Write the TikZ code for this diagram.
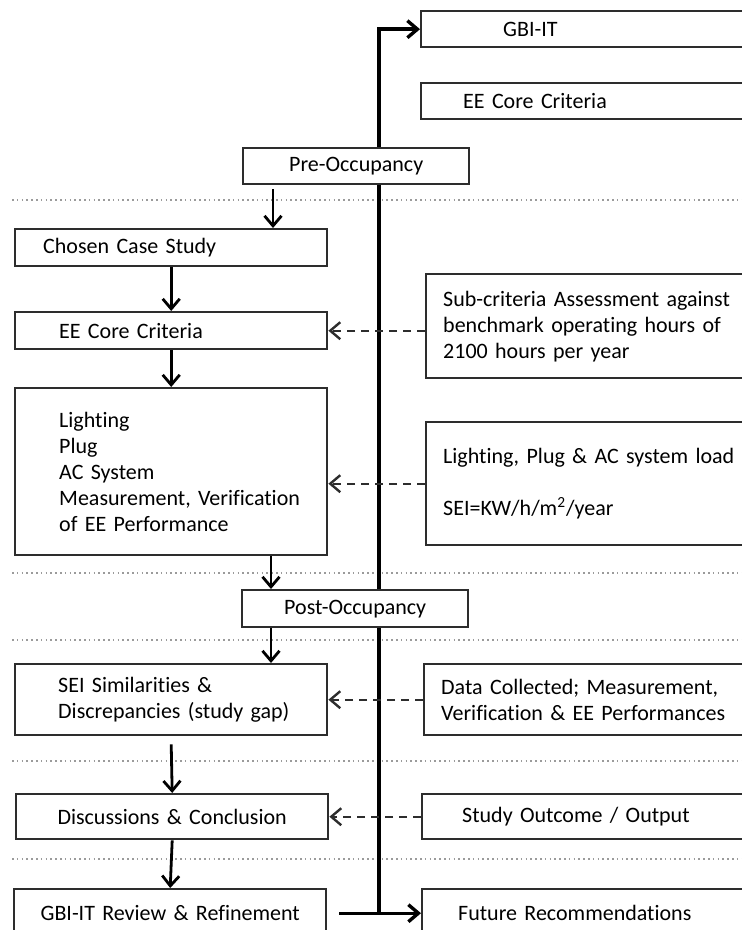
\documentclass[tikz,border=0pt]{standalone}
\usepackage{fontspec}
\setmainfont{Carlito}[Ligatures=NoCommon, WordSpace=0.85]
\usepackage{xcolor}
\definecolor{boxgray}{RGB}{45,45,45}
\definecolor{sepgray}{RGB}{155,155,155}
\usepackage{tikz}
\usetikzlibrary{arrows.meta, backgrounds}

\tikzset{
  box/.style={draw=boxgray, line width=1.2pt, fill=white, rectangle, anchor=north west,
              inner xsep=0pt, inner ysep=0pt, align=left, font=\fontsize{11}{13}\selectfont},
  leftcol/.style={box, text width=156pt},
  rightcol/.style={box, text width=175pt},
  phase/.style={box, text width=113pt, align=center},
  padl/.style={execute at begin node={\leftskip=#1}},
  flow/.style={-{Straight Barb[length=5pt,width=8.5pt]}, line width=1.4pt},
  feed/.style={-{Straight Barb[length=5pt,width=8.5pt]}, line width=1.2pt, boxgray,
               dash pattern=on 4pt off 3pt},
  spine/.style={line width=1.7pt},
  separator/.style={sepgray, line width=0.8pt, dash pattern=on 0.8pt off 1.6pt}
}

\begin{document}
\begin{tikzpicture}[x=0.5pt, y=-0.5pt]
  \useasboundingbox (0,0) rectangle (742,930);
  \clip (0,0) rectangle (742,930);

  % --- Right column: rating tool and inputs ---
  \node[rightcol, padl=41pt, minimum height=18pt] (gbiit) at (420,10) {GBI-IT};
  \node[rightcol, padl=21pt, minimum height=18pt] (eetop) at (420,82) {EE Core Criteria};
  \node[rightcol, padl=8.5pt, minimum height=52pt] (subcrit) at (425,273)
       {Sub-criteria Assessment against\\benchmark operating hours of\\2100 hours per year};
  \node[rightcol, padl=8.5pt, minimum height=61.5pt] (sysload) at (425,421)
       {Lighting, Plug \& AC system load\\[13pt]SEI=KW/h/m\textsuperscript{2}/year};
  \node[rightcol, padl=8.5pt, minimum height=35.5pt] (datacol) at (423,663)
       {Data Collected; Measurement,\\Verification \& EE Performances};
  \node[rightcol, padl=20pt, minimum height=22.5pt] (outcome) at (421,793) {Study Outcome / Output};
  \node[rightcol, padl=18pt, minimum height=24pt] (future) at (421,888) {Future Recommendations};

  % --- Phases ---
  \node[phase, minimum height=18pt] (preocc) at (242,147) {Pre-Occupancy};
  \node[phase, minimum height=18.5pt] (postocc) at (241,589) {Post-Occupancy};

  % --- Left column: study steps ---
  \node[leftcol, padl=14pt, minimum height=18.5pt] (chosen) at (14,228) {Chosen Case Study};
  \node[leftcol, padl=22pt, minimum height=18.5pt] (eecore) at (14,311) {EE Core Criteria};
  \node[leftcol, padl=22pt, minimum height=83.5pt] (lighting) at (14,387)
       {Lighting\\Plug\\AC System\\Measurement, Verification\\of EE Performance};
  \node[leftcol, padl=21.5pt, minimum height=35.5pt] (seigap) at (14,663)
       {SEI Similarities \&\\Discrepancies (study gap)};
  \node[leftcol, align=center, minimum height=22.5pt] (discuss) at (15,793) {Discussions \& Conclusion};
  \node[leftcol, align=center, minimum height=24pt] (review) at (13,888) {GBI-IT Review \& Refinement};

  % --- Main flow ---
  \coordinate (prefoot) at ([xshift=15.5pt]preocc.south west);
  \coordinate (posthead) at ([xshift=15pt]postocc.north west);
  \draw[flow] ([yshift=-2pt]prefoot) -- (prefoot |- chosen.north);
  \draw[flow] (chosen.south) -- (eecore.north);
  \draw[flow] (eecore.south) -- (lighting.north);
  \draw[flow] (posthead |- lighting.south) -- (posthead);
  \draw[flow] (posthead |- postocc.south) -- (posthead |- seigap.north);
  \draw[flow] ([yshift=-4pt]seigap.south) -- (discuss.north);
  \draw[flow] (discuss.south) -- (review.north);

  % --- Inputs fed back to the steps ---
  \draw[feed] (subcrit.west |- eecore.east) -- (eecore.east);
  \draw[feed] (sysload.west) -- (sysload.west -| lighting.east);
  \draw[feed] (datacol.west) -- (seigap.east);
  \draw[feed] (outcome.west) -- (discuss.east);

  % --- Review loop back to GBI-IT ---
  \coordinate (spinex) at (379,0);
  \draw[flow, spine] ([xshift=6pt]review.east) -- (future.west);
  \begin{pgfonlayer}{background}
    \foreach \y in {200,573,640,761,859}
      \draw[separator] (12,\y) -- (742,\y);
    \draw[flow, spine] (spinex |- future.west) |- (gbiit.west);
  \end{pgfonlayer}
\end{tikzpicture}
\end{document}
